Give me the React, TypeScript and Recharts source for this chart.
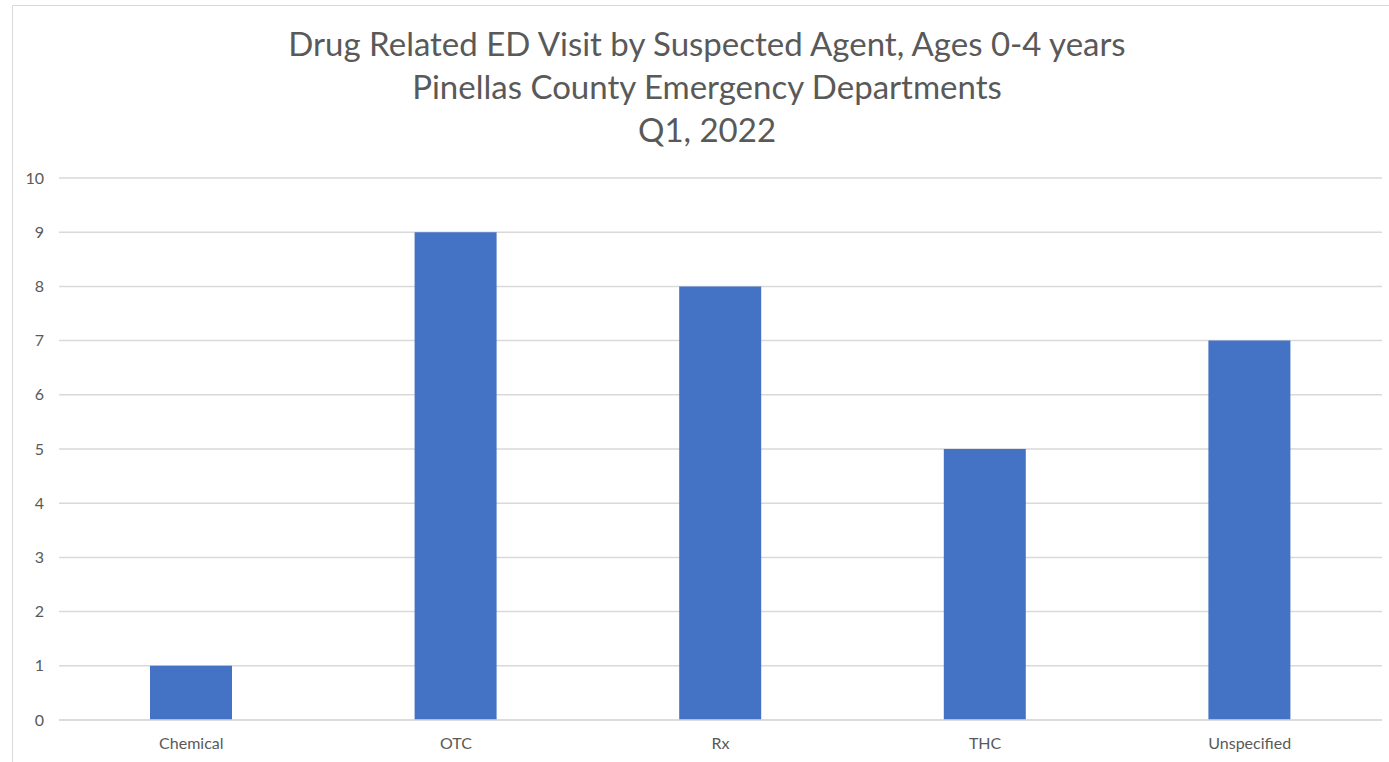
import React from 'react';
import { BarChart, Bar, XAxis, YAxis, CartesianGrid } from 'recharts';

const agents = ['Chemical', 'OTC', 'Rx', 'THC', 'Unspecified'];
const visits = [1, 9, 8, 5, 7];
const yTicks = [0, 1, 2, 3, 4, 5, 6, 7, 8, 9, 10];
const titleLines = [
    'Drug Related ED Visit by Suspected Agent, Ages 0-4 years',
    'Pinellas County Emergency Departments',
    'Q1, 2022',
];

const data = agents.map((agent, i) => ({ agent, visits: visits[i] }));

const grey = '#595959';
const gridGrey = '#d9d9d9';
const font = 'Lato, "Open Sans", sans-serif';

export default function App() {
    return (
        <div style={{ position: 'fixed', left: 0, top: 0, width: 1389, height: 762, overflow: 'hidden', background: '#fff' }}>
            <div style={{ position: 'absolute', left: 12, top: 5, width: 1420, height: 800, border: `1.5px solid ${gridGrey}`, boxSizing: 'border-box' }} />
            <div style={{ position: 'absolute', left: 207, top: 22, width: 1000, textAlign: 'center', fontFamily: font, fontSize: 33, lineHeight: '43px', color: grey }}>
                {titleLines.map((line) => (
                    <div key={line}>{line}</div>
                ))}
            </div>
            <div style={{ position: 'absolute', left: 0, top: 0 }}>
                <BarChart
                    width={1389}
                    height={762}
                    data={data}
                    margin={{ top: 178, right: 7, bottom: 0, left: 0 }}
                    barCategoryGap="34%"
                >
                    <CartesianGrid vertical={false} stroke={gridGrey} strokeWidth={1.5} />
                    <XAxis
                        dataKey="agent"
                        axisLine={{ stroke: gridGrey, strokeWidth: 1.5 }}
                        tickLine={false}
                        tickMargin={12}
                        height={42}
                        tick={{ fill: grey, fontSize: 16, fontFamily: font }}
                    />
                    <YAxis
                        domain={[0, 10]}
                        ticks={yTicks}
                        width={59}
                        axisLine={false}
                        tickLine={false}
                        tickMargin={9}
                        tick={{ fill: grey, fontSize: 16, fontFamily: font }}
                    />
                    <Bar dataKey="visits" fill="#4472c4" barSize={82} isAnimationActive={false} />
                </BarChart>
            </div>
        </div>
    );
}
